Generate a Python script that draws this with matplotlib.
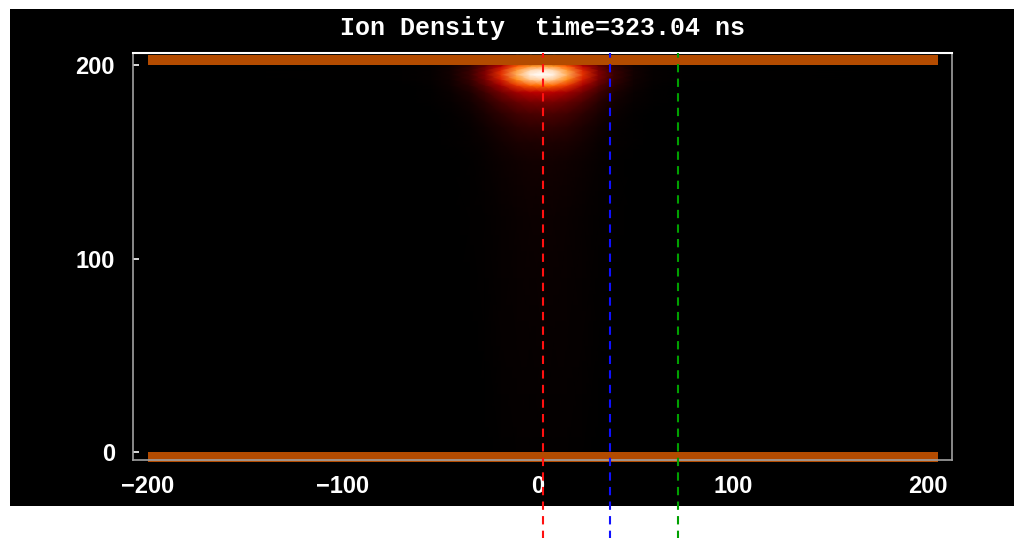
import numpy as np
import matplotlib
matplotlib.use("Agg")
import matplotlib.pyplot as plt
from matplotlib.patches import Rectangle

# ---- data ----
title_text = "Ion Density  time=323.04 ns"
xticks = [-200, -100, 0, 100, 200]
yticks = [0, 100, 200]

# electrode walls (x extent, y extents)
wall_x = [-200, 205]
wall_top_y = [200, 205]
wall_bot_y = [-5, 0]

# probe positions (dashed vertical lines)
probe_x = [2.4, 37.1, 71.6]
probe_colors = ["#ff1010", "#1010ff", "#00a000"]

# ion density profile (relative intensity)
dens_x = [-210, -70, -55, -45, -35, -27, -19, -11, -4, 2, 8, 15, 23, 31, 39, 49, 59, 74, 212]
dens_xv = [0.0, 0.005, 0.015, 0.05, 0.15, 0.34, 0.6, 0.84, 0.97, 1.0, 0.97, 0.84, 0.6, 0.34, 0.15, 0.05, 0.015, 0.005, 0.0]
dens_y = [-5, 0, 60, 120, 150, 160, 168, 175, 181, 186, 189.5, 192.5, 195, 197.5, 199.5, 206]
dens_yv = [0.0, 0.01, 0.02, 0.03, 0.05, 0.08, 0.13, 0.2, 0.32, 0.5, 0.72, 0.92, 1.0, 0.95, 0.8, 0.0]

# ---- figure ----
fig = plt.figure(figsize=(10.14, 5.38), dpi=100, facecolor="white")
W, H = 1014, 538
bg = Rectangle((10 / W, (H - 506) / H), (W - 10) / W, (506 - 9) / H,
               transform=fig.transFigure, facecolor="black",
               edgecolor="none", zorder=-10)
fig.patches.append(bg)

ax = fig.add_axes([133 / W, (H - 460) / H, (952 - 133) / W, (460 - 53) / H])
ax.set_zorder(5)
ax.set_facecolor("black")

X, Y = np.meshgrid(dens_x, dens_y)
Z = np.outer(dens_yv, dens_xv)
ax.pcolormesh(X, Y, Z, shading="gouraud", cmap="gist_heat", vmin=0, vmax=1, zorder=1)

# walls
ax.add_patch(Rectangle((wall_x[0], wall_top_y[0]), wall_x[1] - wall_x[0],
                       wall_top_y[1] - wall_top_y[0], facecolor="#b34b00",
                       edgecolor="none", zorder=2))
ax.add_patch(Rectangle((wall_x[0], wall_bot_y[0]), wall_x[1] - wall_x[0],
                       wall_bot_y[1] - wall_bot_y[0], facecolor="#b34b00",
                       edgecolor="none", zorder=2, clip_on=False))

# probes
for px, pc in zip(probe_x, probe_colors):
    ax.axvline(px, ymin=-0.2, ymax=1.0, color=pc, lw=1.5, dashes=(4, 3),
               clip_on=False, zorder=3)

ax.set_xlim(-207.7, 212.3)
ax.set_ylim(-4.13, 206.2)
ax.set_xticks(xticks)
ax.set_yticks(yticks)
ax.set_xticklabels(["\u2212200", "\u2212100", "0", "100", "200"])

for s in ["left", "right", "bottom"]:
    ax.spines[s].set_color("#a0a0a0")
    ax.spines[s].set_linewidth(1.2)
ax.spines["top"].set_color("white")
ax.spines["top"].set_linewidth(1.5)

ax.tick_params(axis="x", length=0, pad=11, colors="white")
ax.tick_params(axis="y", direction="in", length=4, width=1.2, pad=13, colors="white")
for lab in ax.get_xticklabels() + ax.get_yticklabels():
    lab.set_fontfamily("Liberation Sans")
    lab.set_fontweight("bold")
    lab.set_fontsize(17)
    lab.set_color("white")

ax.set_title(title_text, color="white", fontfamily="Liberation Mono",
             fontweight="bold", fontsize=18, pad=13)

fig.savefig("out.png", dpi=100, facecolor="white")
